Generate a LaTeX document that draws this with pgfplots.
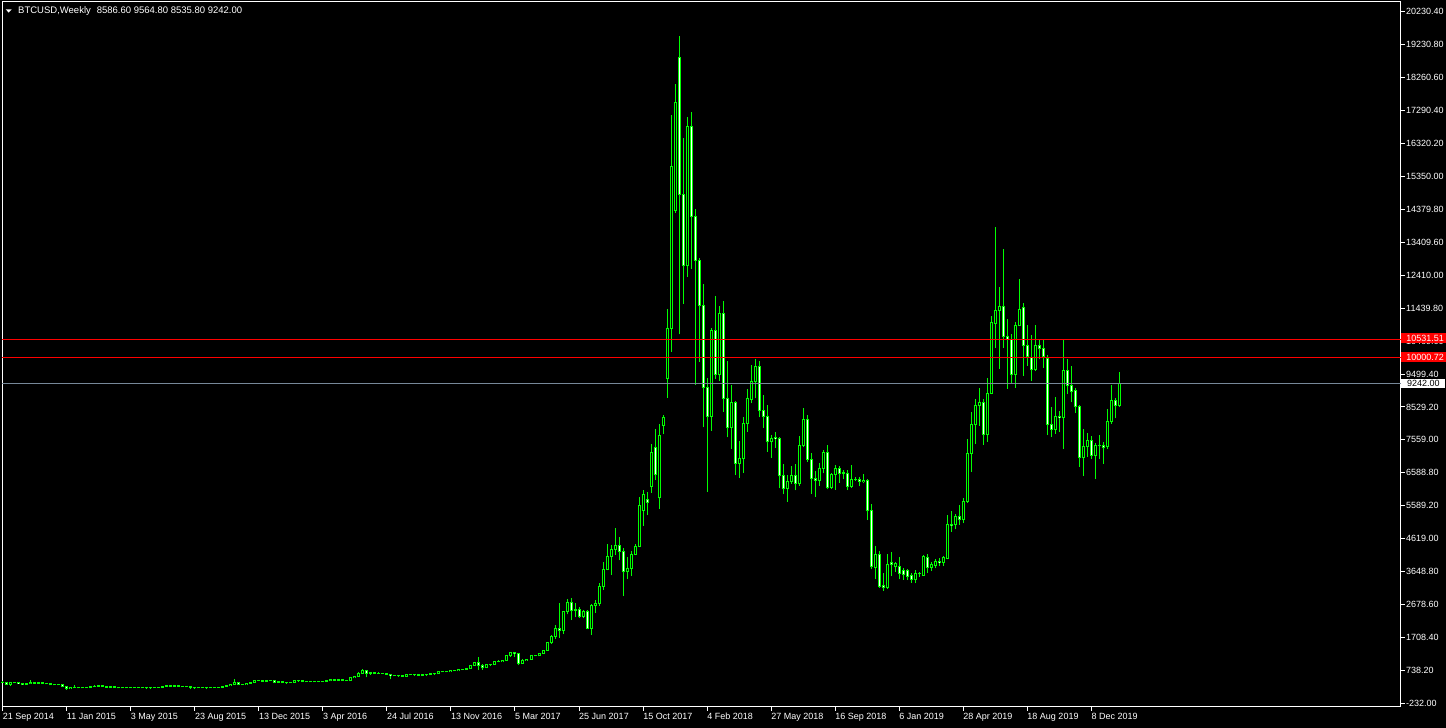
\documentclass[border=0pt]{standalone}
\usepackage{pgfplots}
\pgfplotsset{compat=1.18}
\usepackage{pgfplotstable}
\usepackage{fontspec}
\setmainfont{Liberation Sans}
\definecolor{mtlime}{RGB}{0,255,0}
\definecolor{bidgray}{RGB}{119,136,153}
\newcommand{\tf}{\fontsize{9}{10}\selectfont}

\pgfplotstableread{
i O H L C
0 399 441 385 377
1 377 393 320 330
2 330 380 275 375
3 375 410 365 390
4 390 395 350 355
5 355 365 320 325
6 325 350 315 345
7 345 460 340 375
8 375 395 345 365
9 365 385 355 378
10 378 385 360 366
11 366 370 340 345
12 345 352 310 317
13 317 335 305 318
14 318 335 308 314
15 314 316 265 272
16 272 280 165 210
17 210 255 200 250
18 250 312 220 228
19 228 245 210 227
20 227 245 218 235
21 235 262 228 237
22 237 260 233 255
23 255 298 253 275
24 275 296 270 285
25 285 290 258 261
26 261 272 241 247
27 247 262 240 255
28 255 260 235 236
29 236 240 215 223
30 223 238 220 226
31 226 240 218 239
32 239 247 234 241
33 241 245 233 237
34 237 242 232 240
35 240 241 225 229
36 229 232 221 223
37 223 235 222 233
38 233 252 231 245
39 245 250 240 249
40 249 270 248 270
41 270 310 265 292
42 292 297 270 275
43 275 298 272 294
44 294 298 276 281
45 281 285 260 264
46 264 270 255 257
47 257 262 200 232
48 232 236 198 227
49 227 240 225 240
50 240 245 228 231
51 231 235 225 231
52 231 238 224 233
53 233 242 228 240
54 240 249 236 247
55 247 270 244 262
56 262 287 260 284
57 284 335 283 325
58 325 502 322 382
59 382 395 300 330
60 330 340 310 323
61 323 375 315 362
62 362 395 345 390
63 390 470 388 440
64 440 470 420 450
65 450 465 415 422
66 422 438 412 432
67 432 460 426 449
68 449 450 360 382
69 382 410 365 403
70 403 405 368 378
71 378 385 365 374
72 374 395 370 392
73 392 442 390 438
74 438 440 408 432
75 432 434 395 411
76 411 420 405 410
77 410 420 403 410
78 410 418 405 416
79 416 420 410 418
80 418 424 413 420
81 420 432 418 430
82 430 462 427 460
83 460 466 440 454
84 454 465 440 460
85 460 462 450 456
86 456 458 436 444
87 444 530 438 526
88 526 590 520 575
89 575 690 570 660
90 660 785 650 755
91 755 765 540 660
92 660 700 620 676
93 676 705 635 650
94 650 682 640 665
95 665 680 650 655
96 655 665 625 630
97 630 630 480 590
98 590 600 580 585
99 585 590 565 580
100 580 585 570 575
101 575 610 568 608
102 608 625 600 608
103 608 613 600 608
104 608 610 590 601
105 601 612 597 610
106 610 620 605 615
107 615 645 612 640
108 640 650 630 650
109 650 720 648 700
110 700 740 690 705
111 705 720 685 700
112 700 755 695 742
113 742 755 725 735
114 735 770 725 768
115 768 775 755 768
116 768 790 765 789
117 789 895 785 890
118 890 975 885 968
119 968 1150 750 900
120 900 920 760 820
121 820 925 815 920
122 920 930 885 915
123 915 1010 912 1010
124 1010 1050 980 1000
125 1000 1055 995 1050
126 1050 1180 1045 1170
127 1170 1270 1150 1260
128 1260 1290 1150 1230
129 1230 1250 900 960
130 960 1075 940 1045
131 1045 1090 1030 1080
132 1080 1190 1075 1180
133 1180 1210 1160 1175
134 1175 1250 1170 1250
135 1250 1350 1245 1340
136 1340 1560 1335 1555
137 1555 1800 1530 1750
138 1750 2080 1680 1987
139 1987 2727 1700 1917
140 1917 2508 1818 2479
141 2479 2854 2401 2756
142 2756 2874 2233 2529
143 2529 2727 2313 2547
144 2547 2609 2290 2330
145 2330 2529 2284 2488
146 2488 2529 1957 1987
147 1987 2705 1789 2666
148 2666 2825 2450 2727
149 2727 3319 2650 3219
150 3219 3957 3120 3740
151 3740 4482 3700 4127
152 4127 4452 3564 4324
153 4324 4945 4156 4442
154 4442 4700 4000 4254
155 4254 4354 2943 3663
156 3663 4087 3437 3762
157 3762 4283 3535 4186
158 4186 4480 4150 4420
159 4420 5864 4400 5636
160 5488 6080 5016 5962
161 5805 6030 5340 5705
162 6177 7441 6000 7204
163 7346 7884 6374 6527
164 5851 8022 5518 7707
165 7982 8290 7737 8231
166 9385 11427 8811 10865
167 10865 17176 10172 15658
168 14345 18093 14285 17551
169 18882 19513 10687 14830
170 14838 16505 11584 12717
171 12717 17116 12390 16850
172 16850 17264 12629 14166
173 14177 14394 9195 12864
174 12885 12944 9875 11533
175 11553 12175 7935 9106
176 9127 9393 6021 8249
177 8249 10873 7834 10814
178 10814 11820 9364 9512
179 9512 11524 9314 11317
180 11317 11672 8397 8793
181 8793 9905 7638 7932
182 7932 9186 7303 8683
183 8683 8713 6523 6869
184 6869 7529 6445 7026
185 7006 8231 6591 8053
186 8053 9059 7804 8793
187 8772 9778 8645 9296
188 9284 9947 8793 9740
189 9740 9905 8231 8426
190 8438 8881 7923 8260
191 8260 8586 7213 7508
192 7515 7698 7036 7618
193 7640 7795 7331 7600
194 7600 7640 6130 6502
195 6515 6848 5953 6130
196 6130 6523 5733 6337
197 6337 6800 6266 6515
198 6515 6840 6070 6266
199 6266 7668 6206 7402
200 7402 8496 7343 8172
201 8172 8290 6908 6989
202 6989 7166 5962 6427
203 6427 6641 5881 6360
204 6360 6869 6206 6721
205 6721 7263 6573 7204
206 7195 7411 6101 6160
207 6160 6573 6110 6554
208 6544 6810 6089 6721
209 6730 6800 6295 6562
210 6562 6663 6396 6591
211 6564 6673 6080 6187
212 6187 6819 6150 6396
213 6396 6456 6356 6404
214 6404 6456 6187 6337
215 6337 6553 6278 6375
216 6375 6415 5192 5466
217 5488 5665 3733 3812
218 3790 4422 3446 4178
219 4186 4275 3188 3238
220 3265 3614 3100 3197
221 3197 4177 3150 3880
222 3927 4245 3535 3868
223 3808 3962 3649 3917
224 3813 4097 3437 3605
225 3712 3762 3426 3594
226 3703 3741 3416 3535
227 3555 3614 3336 3437
228 3437 3712 3318 3614
229 3600 3650 3520 3622
230 3563 4156 3543 4106
231 4097 4186 3622 3784
232 3784 3949 3682 3888
233 3860 4038 3762 3979
234 3979 4068 3831 3940
235 3949 4127 3830 4097
236 4058 5340 4028 5074
237 5074 5458 4846 5044
238 5064 5369 4917 5310
239 5310 5636 5050 5200
240 5200 5834 5100 5750
241 5750 7588 5700 7166
242 7166 8388 6621 8032
243 8012 8763 7441 8594
244 8585 9089 7982 8674
245 8683 8772 7420 7716
246 7716 9385 7509 8940
247 8940 11219 8911 11041
248 11012 13870 10290 11405
249 11397 12086 9669 11515
250 11524 13211 10290 10616
251 10616 11139 9077 10519
252 10519 10686 9245 9491
253 9491 11041 9106 10953
254 10953 12323 10932 11426
255 11486 11604 9461 10362
256 10362 10953 9757 10025
257 9996 10657 9304 9632
258 9632 10953 9600 10362
259 10362 10510 9947 10261
260 10273 10510 9697 10025
261 9982 10074 7706 8023
262 8023 8535 7647 7884
263 7884 8831 7746 8260
264 8260 8417 7796 8218
265 8218 10518 7293 9621
266 9621 9955 8929 9166
267 9166 9745 8674 9009
268 9029 9089 8367 8544
269 8565 8585 6769 7047
270 7047 7875 6494 7360
271 7362 7757 7065 7559
272 7559 7677 6997 7115
273 7115 7480 6405 7411
274 7411 7707 6997 7391
275 7391 7490 6857 7344
276 7362 8476 7293 8112
277 8112 9186 8041 8733
278 8733 8812 8201 8586.6
279 8586.6 9564.8 8535.8 9242
}\btc

\begin{document}
\begin{tikzpicture}
\fill[black] (0,0) rectangle (1446pt,728pt);
\begin{axis}[
  at={(2.3pt,21.3pt)}, anchor=south west,
  scale only axis, width=1398.4pt, height=705pt,
  xmin=-0.1, xmax=349.3, ymin=-330.5, ymax=20528,
  clip=false,
  axis line style={white, line width=1pt},
  tick style={white, line width=1pt},
  tick align=outside, major tick length=4pt,
  ytick pos=right, yticklabel pos=right,
  xtick pos=bottom,
  ytick={-232,742.4,1716.8,2691.2,3665.6,4640,5614.4,6588.8,7563.2,8537.6,9512,10486.4,11460.8,12435.2,13409.6,14384,15358.4,16332.8,17307.2,18281.6,19256,20230.4},
  yticklabels={-232.00,738.20,1708.40,2678.60,3648.80,4619.00,5589.20,6588.80,7559.00,8529.20,9499.40,10469.60,11439.80,12410.00,13409.60,14379.80,15350.00,16320.20,17290.40,18260.60,19230.80,20230.40},
  xtick={0,16,32,48,64,80,96,112,128,144,160,176,192,208,224,240,256,272},
  xticklabels={21 Sep 2014,11 Jan 2015,3 May 2015,23 Aug 2015,13 Dec 2015,3 Apr 2016,24 Jul 2016,13 Nov 2016,5 Mar 2017,25 Jun 2017,15 Oct 2017,4 Feb 2018,27 May 2018,16 Sep 2018,6 Jan 2019,28 Apr 2019,18 Aug 2019,8 Dec 2019},
  yticklabel style={anchor=west, inner sep=0pt, xshift=1.3pt, text=white, font=\tf},
  xticklabel style={anchor=north west, inner sep=0pt, yshift=-2pt, text=white, font=\tf},
]
% wicks: from L up by H-L
\addplot[mtlime, line width=1pt, -, forget plot,
  quiver={u={0}, v={\thisrow{H}-\thisrow{L}}}]
  table[x=i, y=L] {\btc};
% body outline
\addplot[mtlime, line width=3pt, -, forget plot,
  quiver={u={0}, v={abs(\thisrow{C}-\thisrow{O})+29.6}}]
  table[x=i, y expr={min(\thisrow{O},\thisrow{C})-14.8}] {\btc};
% bull interior
\addplot[black, line width=1pt, -, forget plot,
  x filter/.expression={\thisrow{C}>=\thisrow{O} ? x : nan},
  quiver={u={0}, v={max(abs(\thisrow{C}-\thisrow{O})-29.6,0)}}]
  table[x=i, y expr={min(\thisrow{O},\thisrow{C})+14.8}] {\btc};
% bear interior
\addplot[white, line width=1pt, -, forget plot,
  x filter/.expression={\thisrow{C}<\thisrow{O} ? x : nan},
  quiver={u={0}, v={max(abs(\thisrow{C}-\thisrow{O})-29.6,0)}}]
  table[x=i, y expr={min(\thisrow{O},\thisrow{C})+14.8}] {\btc};
% horizontal lines
\addplot[red, line width=1pt, forget plot] coordinates {(-0.1,10531.51) (349.3,10531.51)};
\addplot[red, line width=1pt, forget plot] coordinates {(-0.1,10000.72) (349.3,10000.72)};
\addplot[bidgray, line width=1pt, forget plot] coordinates {(-0.1,9242) (349.3,9242)};
\node[anchor=west, fill=red, text=white, font=\tf, inner xsep=5pt, inner ysep=0pt, minimum height=10pt, xshift=0.5pt, yshift=1.3pt] at (axis cs:349.3,10531.51) {10531.51};
\node[anchor=west, fill=red, text=white, font=\tf, inner xsep=5pt, inner ysep=0pt, minimum height=10pt, xshift=0.5pt, yshift=0.5pt] at (axis cs:349.3,10000.72) {10000.72};
\node[anchor=west, fill=white, text=black, font=\tf, inner xsep=2.5pt, inner ysep=0pt, minimum height=9pt, minimum width=44pt, align=left, xshift=0.5pt, yshift=-0.5pt] at (axis cs:349.3,9242) {9242.00\hfill};
\end{axis}
\fill[white] (5.7pt,718.7pt) -- (11.7pt,718.7pt) -- (8.7pt,715.4pt) -- cycle;
\node[anchor=base west, inner sep=0pt, text=white, font=\fontsize{9.5}{11}\selectfont] at (18pt,714.7pt) {BTCUSD,Weekly\hspace{6pt}8586.60 9564.80 8535.80 9242.00};
\pgfresetboundingbox
\useasboundingbox (0,0) rectangle (1446pt,728pt);
\end{tikzpicture}
\end{document}
